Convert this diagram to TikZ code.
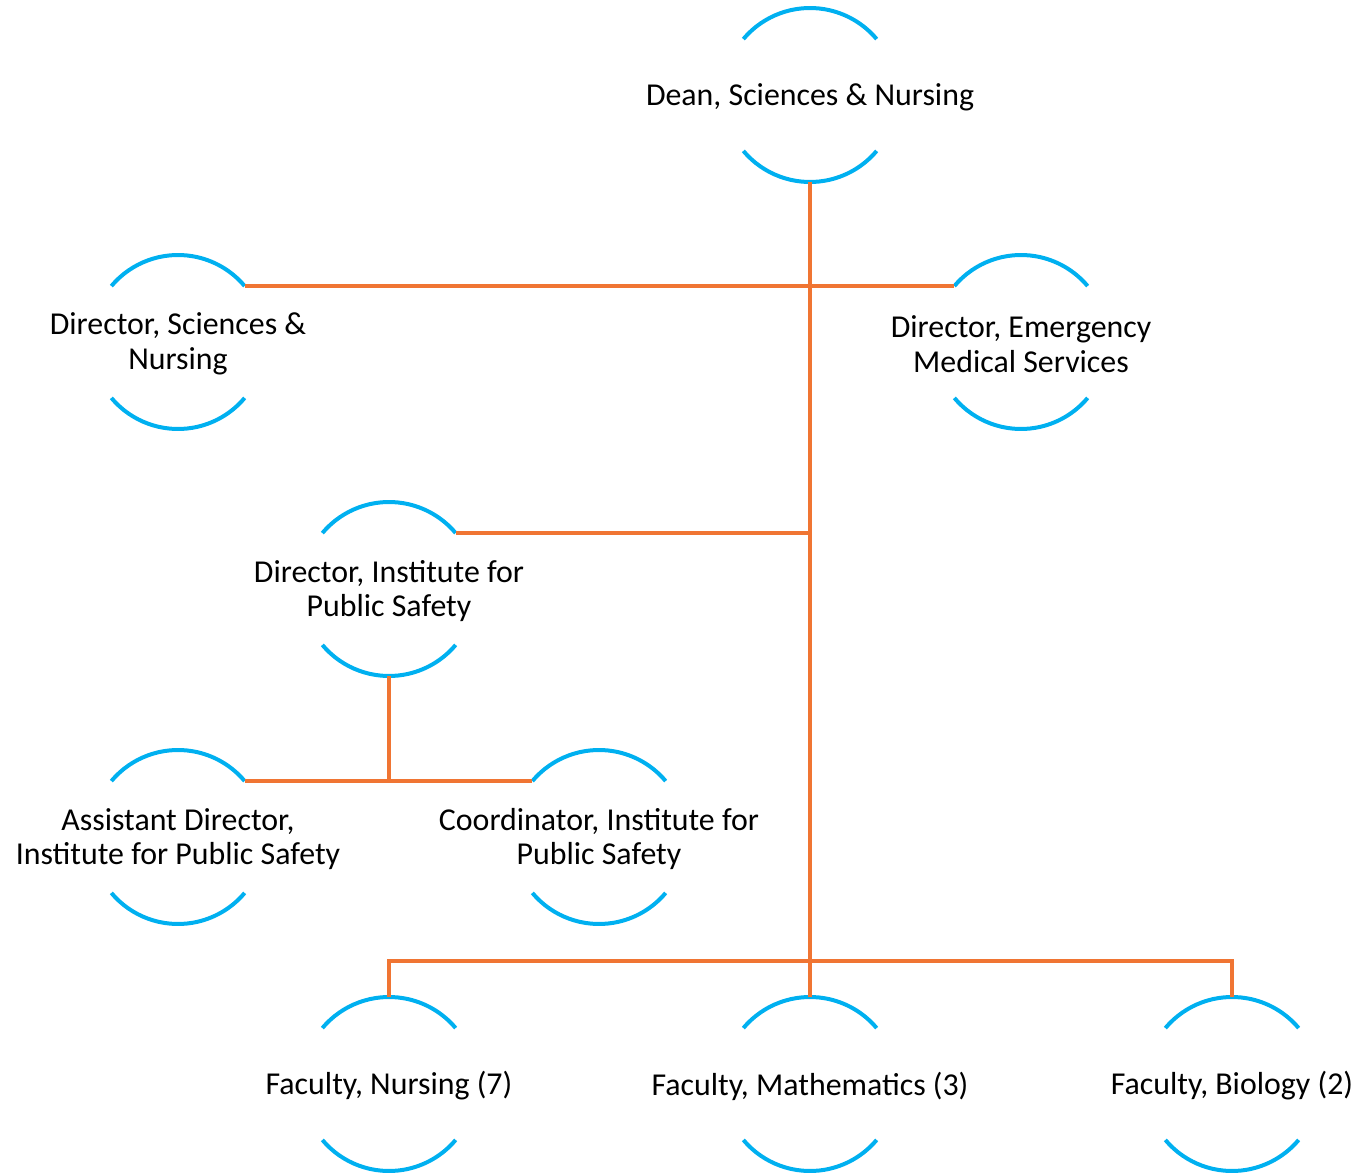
\documentclass[tikz,border=0pt]{standalone}
\usepackage{fontspec}
\setmainfont{Carlito}
\definecolor{ringblue}{HTML}{00B0F0}
\definecolor{linkorange}{HTML}{F07533}
\begin{document}
\begin{tikzpicture}[x=0.75pt,y=0.75pt,
  ring/.style={circle,minimum size=130.5pt,inner sep=0pt,outer sep=0pt},
  ringarc/.style={draw=ringblue,line width=3pt},
  lbl/.style={align=center,font=\fontsize{23.9pt}{26pt}\selectfont,inner sep=0pt,yshift=-1.5pt},
  link/.style={draw=linkorange,line width=2.4pt}]
\useasboundingbox (0,0) rectangle (1361,-1173);
% rings
\node[ring] (dean) at (810,-95) {};
\node[ring] (dsn) at (178,-342) {};
\node[ring] (ems) at (1021,-342) {};
\node[ring] (ips) at (389,-589) {};
\node[ring] (ad) at (178,-837) {};
\node[ring] (co) at (599,-837) {};
\node[ring] (fn) at (389,-1084) {};
\node[ring] (fm) at (810,-1084) {};
\node[ring] (fb) at (1232,-1084) {};
% texts
\node[lbl] (tdean) at (dean) {Dean, Sciences \& Nursing};
\node[lbl] (tdsn) at (dsn) {Director, Sciences \&\\Nursing};
\node[lbl] (tems) at (ems) {Director, Emergency\\Medical Services};
\node[lbl] (tips) at (ips) {Director, Institute for\\Public Safety};
\node[lbl] (tad) at (ad) {Assistant Director,\\Institute for Public Safety};
\node[lbl] (tco) at (co) {Coordinator, Institute for\\Public Safety};
\node[lbl] (tfn) at (fn) {Faculty, Nursing (7)};
\node[lbl] (tfm) at (fm) {Faculty, Mathematics (3)};
\node[lbl] (tfb) at (fb) {Faculty, Biology (2)};
% arcs
\foreach \n in {dean,dsn,ems,ips,ad,co,fn,fm,fb}{
  \draw[ringarc] (\n.140) arc[start angle=140,end angle=40,radius=65.25pt];
  \draw[ringarc] (\n.220) arc[start angle=220,end angle=320,radius=65.25pt];
}
% connectors
\draw[link] (dean.south) -- (fm.north);
\draw[link] (dsn.40) -- (ems.140);
\draw[link] (ips.40) -- (ips.40 -| dean.south);
\draw[link] (ips.south) -- (ips.south |- ad.40);
\draw[link] (ad.40) -- (co.140);
\coordinate (bus) at (810,-961);
\draw[link] (fn.north) |- (bus) -| (fb.north);
\end{tikzpicture}
\end{document}
